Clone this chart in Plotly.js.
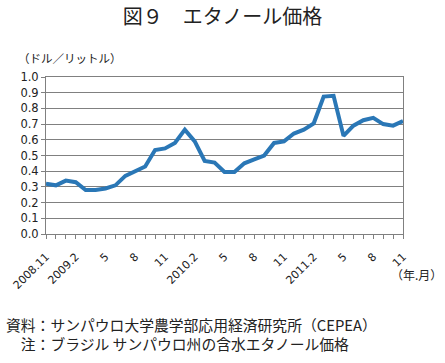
<!DOCTYPE html>
<html><head><meta charset="utf-8">
<script src="https://cdn.plot.ly/plotly-3.0.1.min.js"></script>
<style>html,body{margin:0;padding:0;background:#fff}#c{width:445px;height:363px}</style>
</head><body><div id="c"></div>
<script>
const months = ["2008.11","2008.12","2009.1","2009.2","2009.3","2009.4","2009.5","2009.6","2009.7","2009.8","2009.9","2009.10","2009.11","2009.12",
"2010.1","2010.2","2010.3","2010.4","2010.5","2010.6","2010.7","2010.8","2010.9","2010.10","2010.11","2010.12",
"2011.1","2011.2","2011.3","2011.4","2011.5","2011.6","2011.7","2011.8","2011.9","2011.10","2011.11"];
const prices = [0.32,0.31,0.34,0.33,0.28,0.28,0.29,0.31,0.37,0.40,0.43,0.535,0.545,0.58,0.665,0.59,0.465,0.455,0.395,0.395,0.45,0.475,0.50,0.58,0.59,0.64,0.665,0.705,0.875,0.88,0.625,0.69,0.725,0.74,0.70,0.69,0.72];
const tickLabels = ["2008.11","","","2009.2","","","5","","","8","","","11","","","2010.2","","","5","","","8","","","11","","","2011.2","","","5","","","8","","","11"];

const jp = "'Noto Sans CJK JP', 'Noto Sans', sans-serif";
const num = "'DejaVu Sans', Verdana, sans-serif";

Plotly.newPlot('c', [{
  x: months, y: prices, type: 'scatter', mode: 'lines',
  line: {color: '#2a77b6', width: 4}, hoverinfo: 'skip'
}], {
  width: 445, height: 363,
  margin: {l: 46, r: 42, t: 77, b: 129},
  paper_bgcolor: '#fff', plot_bgcolor: '#fff',
  showlegend: false,
  title: {text: '図９　エタノール価格', font: {family: jp, size: 20, color: '#222'}, x: 0.5, xanchor: 'center', y: 0.952, yanchor: 'middle'},
  xaxis: {
    type: 'category', range: [0, months.length - 1],
    tickvals: months, ticktext: tickLabels, tickangle: -45,
    ticks: 'outside', ticklen: 4, tickcolor: '#808080', tickwidth: 1,
    ticklabelstandoff: 7,
    showline: true, linecolor: '#808080', linewidth: 1, mirror: true,
    showgrid: false, zeroline: false,
    tickfont: {family: num, size: 11, color: '#222'}
  },
  yaxis: {
    range: [0, 1], dtick: 0.1, tick0: 0, tickformat: '.1f',
    ticks: 'outside', ticklen: 4, tickcolor: '#808080',
    showline: true, linecolor: '#808080', linewidth: 1, mirror: true,
    showgrid: true, gridcolor: '#808080', gridwidth: 1, zeroline: false,
    tickfont: {family: num, size: 11.5, color: '#222'}
  },
  annotations: [
    {text: '（ドル／リットル）', xref: 'paper', yref: 'paper', x: -0.085, y: 1.12, xanchor: 'left', yanchor: 'middle', showarrow: false, font: {family: jp, size: 11.5, color: '#222'}},
    {text: '（年.月）', xref: 'paper', yref: 'paper', x: 1.115, y: -0.255, xanchor: 'right', yanchor: 'middle', showarrow: false, font: {family: jp, size: 12, color: '#222'}},
    {text: '資料：サンパウロ大学農学部応用経済研究所（CEPEA）<br>　注：ブラジル サンパウロ州の含水エタノール価格', align: 'left', xref: 'paper', yref: 'paper', x: -0.118, y: -0.64, xanchor: 'left', yanchor: 'middle', showarrow: false, font: {family: jp, size: 14.8, color: '#222'}}
  ]
}, {displayModeBar: false, staticPlot: true});
</script></body></html>
